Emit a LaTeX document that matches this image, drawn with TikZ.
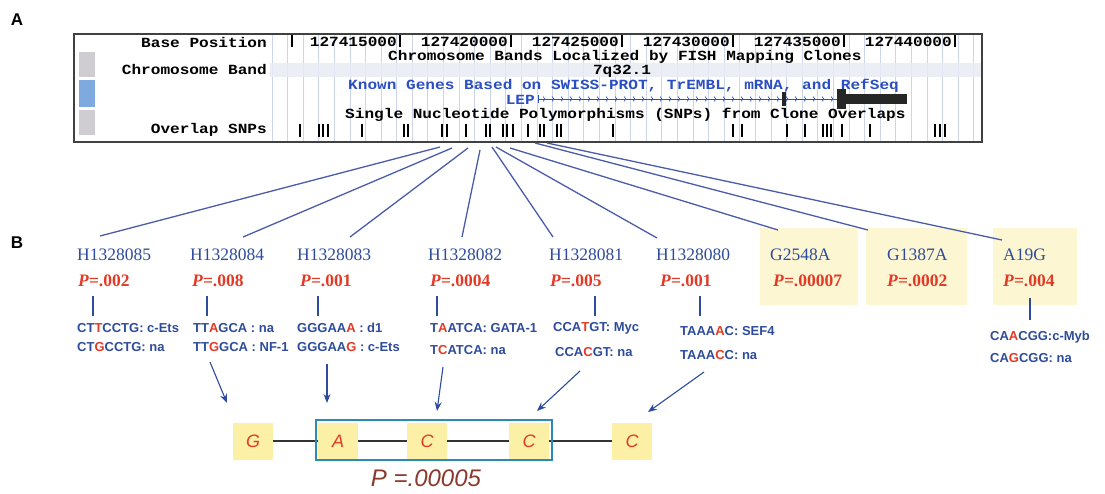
\documentclass[tikz,border=0pt]{standalone}
\usepackage{fontspec}
\setmainfont{Liberation Serif}
\newfontfamily\monof[FakeStretch=1.15]{Liberation Mono}
\newfontfamily\arialf{Liberation Sans}
\usetikzlibrary{arrows.meta}
\definecolor{dblue}{HTML}{2E4C9C}
\definecolor{gblue}{HTML}{2B4FC2}
\definecolor{fanblue}{HTML}{4A5CAA}
\definecolor{pred}{HTML}{E23A26}
\definecolor{gridc}{HTML}{CDD5EA}
\definecolor{bandc}{HTML}{E9ECF4}
\definecolor{paley}{HTML}{FDF6D2}
\definecolor{haply}{HTML}{FBF0A6}
\definecolor{frameb}{HTML}{2A8AB8}
\definecolor{pbrown}{HTML}{8A3A2C}
\definecolor{btn}{HTML}{CFCCD2}
\definecolor{btnblue}{HTML}{7FAADF}
\tikzset{
  mono/.style={font=\monof\bfseries\fontsize{14}{14}\selectfont, inner sep=0pt},
  lbl/.style={mono, anchor=east},
  mname/.style={font=\fontsize{17.5}{18}\selectfont, text=dblue, inner sep=0pt, anchor=west},
  pval/.style={font=\bfseries\fontsize{17.5}{18}\selectfont, text=pred, inner sep=0pt, anchor=west},
  seq/.style={font=\arialf\bfseries\fontsize{13}{13}\selectfont, text=dblue, inner sep=0pt, anchor=west},
  fan/.style={draw=fanblue, line width=1.3pt},
  stem/.style={draw=dblue, line width=1.1pt},
  arr/.style={draw=dblue, line width=1.1pt, -{Stealth[length=9pt,width=7pt]}},
  hbox/.style={fill=haply, minimum width=40pt, minimum height=37pt, inner sep=0pt, font=\arialf\itshape\fontsize{18}{18}\selectfont, text=pred},
  ybox/.style={fill=paley, inner sep=0pt},
  snp/.style={draw=black, line width=1.2pt},
  snpt/.style={draw=black, line width=2.6pt},
}
\begin{document}
\begin{tikzpicture}[x=1pt,y=-1pt]
\useasboundingbox (0,0) rectangle (1105,493);
\fill[white] (0,0) rectangle (1105,493);
% panel letters
\node[font=\arialf\bfseries\fontsize{17}{17}\selectfont, inner sep=0pt] (lA) at (17,20) {A};
\node[font=\arialf\bfseries\fontsize{17}{17}\selectfont, inner sep=0pt] (lB) at (17,243) {B};
% ---------------- browser ----------------
\foreach \x in {272,287,303,318,334,350,365,381,396,412,427,443,459,474,490,505,521,537,552,568,583,599,615,630,646,661,677,693,708,724,739,755,771,786,802,817,833,849,864,880,895,911,927,942,958,973}
  \draw[gridc, line width=0.9pt] (\x,35) -- (\x,141);
\fill[bandc, opacity=0.85] (270,63) rectangle (981,77);
% buttons
\fill[btn] (79,52) rectangle (95,77);
\fill[btnblue] (79,80) rectangle (95,107);
\fill[btn] (79,110) rectangle (95,135);
% row labels
\node[lbl] (bp) at (267,42) {Base Position};
\node[lbl] (cb) at (267,69) {Chromosome Band};
\node[lbl] (os) at (267,130) {Overlap SNPs};
% base position ticks and numbers
\draw[black, line width=1.6pt] (292,35) -- (292,47);
\foreach \t/\n in {400/127415000,511/127420000,622/127425000,733/127430000,844/127435000,955/127440000}{
  \draw[black, line width=1.4pt] (\t,35) -- (\t,47);
  \node[mono, anchor=east] at (\t-3,41.5) {\n};
}
\node[mono, anchor=west] (cbt) at (388,56.5) {Chromosome Bands Localized by FISH Mapping Clones};
\node[mono] (band) at (622,71) {7q32.1};
\node[mono, anchor=west, text=gblue] (kg) at (348,85.5) {Known Genes Based on SWISS-PROT, TrEMBL, mRNA, and RefSeq};
\node[mono, anchor=east, text=gblue] (lep) at (535,99.5) {LEP};
% gene model
\draw[gblue, line width=0.8pt] (538,99) -- (837,99);
\draw[gblue, line width=1pt] (538,95) -- (538,103);
\foreach \x in {545,554,...,833}
  \draw[gblue, line width=0.6pt] (\x-2,96.5) -- (\x,99) -- (\x-2,101.5);
\fill[black!85] (782,92) rectangle (786,106);
\fill[black!85] (837,89) rectangle (846,109);
\fill[black!85] (846,94) rectangle (907,104);
\node[mono, anchor=west] (snpt) at (345,115) {Single Nucleotide Polymorphisms (SNPs) from Clone Overlaps};
% SNP ticks
\foreach \x in {300,319,323,328,362,442,447,466,503,507,513,528,540,544,557,561,613,733,787,805,823,827,831,842,870,935,940,945}
  \draw[snp] (\x,124) -- (\x,137);
\foreach \x in {404,408,486,490,742}
  \draw[snpt] (\x,124) -- (\x,137);
% frame
\draw[black!75, line width=1.2pt] (74,34) rectangle (982,142);
% ---------------- markers ----------------
\node[ybox, minimum width=98pt, minimum height=77pt, anchor=north west] (yb1) at (760,228) {};
\node[ybox, minimum width=101pt, minimum height=77pt, anchor=north west] (yb2) at (866,228) {};
\node[ybox, minimum width=84pt, minimum height=77pt, anchor=north west] (yb3) at (993,228) {};
\node[mname] (m1) at (77,255) {H1328085};
\node[mname] (m2) at (190,255) {H1328084};
\node[mname] (m3) at (297,255) {H1328083};
\node[mname] (m4) at (428,255) {H1328082};
\node[mname] (m5) at (549,255) {H1328081};
\node[mname] (m6) at (656,255) {H1328080};
\node[mname] (m7) at (770,255) {G2548A};
\node[mname] (m8) at (887,255) {G1387A};
\node[mname] (m9) at (1003,255) {A19G};
\node[pval] (p1) at (78,281) {\textit{P}=.002};
\node[pval] (p2) at (192,281) {\textit{P}=.008};
\node[pval] (p3) at (300,281) {\textit{P}=.001};
\node[pval] (p4) at (430,281) {\textit{P}=.0004};
\node[pval] (p5) at (550,281) {\textit{P}=.005};
\node[pval] (p6) at (660,281) {\textit{P}=.001};
\node[pval] (p7) at (773,281) {\textit{P}=.00007};
\node[pval] (p8) at (887,281) {\textit{P}=.0002};
\node[pval] (p9) at (1003,281) {\textit{P}=.004};
% fan lines
\coordinate (f1) at (440,147); \coordinate (e1) at (100,236);
\coordinate (f2) at (452,148); \coordinate (e2) at (243,237);
\coordinate (f3) at (468,148); \coordinate (e3) at (350,237);
\coordinate (f4) at (480,150); \coordinate (e4) at (462,237);
\coordinate (f5) at (492,147); \coordinate (e5) at (553,237);
\coordinate (f6) at (496,147); \coordinate (e6) at (657,238);
\coordinate (f7) at (510,148); \coordinate (e7) at (778,230);
\coordinate (f8) at (535,143); \coordinate (e8) at (868,230);
\coordinate (f9) at (547,143); \coordinate (e9) at (1002,240);
\foreach \i in {1,...,9} \draw[fan] (f\i) -- (e\i);
% stems
\foreach \x in {93,207,318,437,595,700} \draw[stem] (\x,296) -- (\x,316);
\draw[stem] (1030,298) -- (1030,320);
% sequences
\node[seq] (s1a) at (77,328) {CT\textcolor{pred}{T}CCTG: c-Ets};
\node[seq] (s1b) at (77,347) {CT\textcolor{pred}{G}CCTG: na};
\node[seq] (s2a) at (193,328) {TT\textcolor{pred}{A}GCA : na};
\node[seq] (s2b) at (193,347) {TT\textcolor{pred}{G}GCA : NF-1};
\node[seq] (s3a) at (297,328) {GGGAA\textcolor{pred}{A} : d1};
\node[seq] (s3b) at (297,347) {GGGAA\textcolor{pred}{G} : c-Ets};
\node[seq] (s4a) at (430,328) {T\textcolor{pred}{A}ATCA: GATA-1};
\node[seq] (s4b) at (430,350) {T\textcolor{pred}{C}ATCA: na};
\node[seq] (s5a) at (553,328) {CCA\textcolor{pred}{T}GT: Myc};
\node[seq] (s5b) at (555,352) {CCA\textcolor{pred}{C}GT: na};
\node[seq] (s6a) at (680,331) {TAAA\textcolor{pred}{A}C: SEF4};
\node[seq] (s6b) at (680,355) {TAAA\textcolor{pred}{C}C: na};
\node[seq] (s9a) at (990,337) {CA\textcolor{pred}{A}CGG:c-Myb};
\node[seq] (s9b) at (990,358) {CA\textcolor{pred}{G}CGG: na};
% haplotype
\node[hbox] (hG) at (253,441) {G};
\node[hbox] (hA) at (338,441) {A};
\node[hbox] (hC1) at (427,441) {C};
\node[hbox] (hC2) at (529,441) {C};
\node[hbox] (hC3) at (632,441) {C};
\draw[black!80, line width=1.2pt] (hG.east) -- (hA.west);
\draw[black!80, line width=1.2pt] (hA.east) -- (hC1.west);
\draw[black!80, line width=1.2pt] (hC1.east) -- (hC2.west);
\draw[black!80, line width=1.2pt] (hC2.east) -- (hC3.west);
\draw[frameb, line width=2.6pt] (316,420) rectangle (552,460);
\node[font=\arialf\itshape\fontsize{24}{24}\selectfont, text=pbrown, inner sep=0pt] (ptot) at (426,478) {P =.00005};
% arrows
\coordinate (a1s) at (210,362); \coordinate (a1e) at (227,403);
\coordinate (a2s) at (327,364); \coordinate (a2e) at (327,403);
\coordinate (a3s) at (443,367); \coordinate (a3e) at (437,411);
\coordinate (a4s) at (580,371); \coordinate (a4e) at (537,411);
\coordinate (a5s) at (704,372); \coordinate (a5e) at (648,412);
\foreach \i in {1,...,5} \draw[arr] (a\i s) -- (a\i e);
\end{tikzpicture}
\end{document}
